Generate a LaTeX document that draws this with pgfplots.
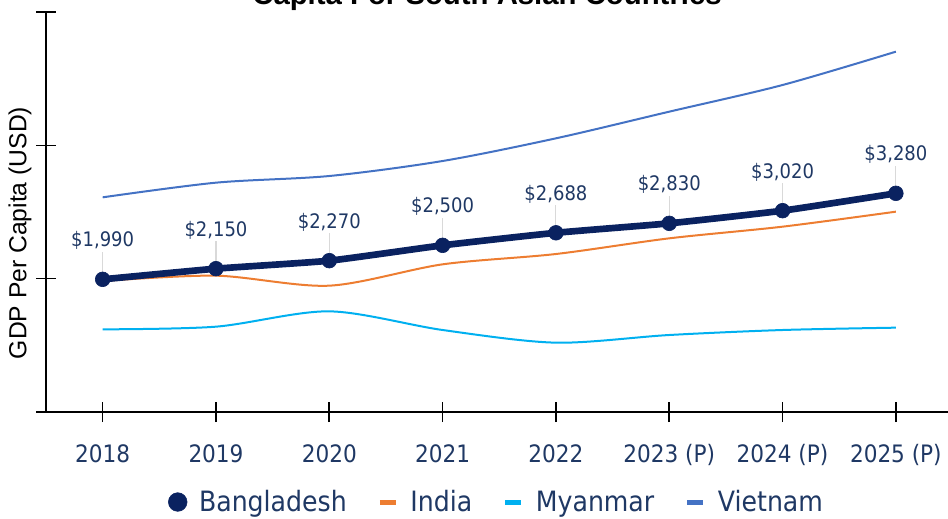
\documentclass[border=0pt]{standalone}
\usepackage{fontspec}
\setmainfont{Liberation Sans}
\newfontfamily\condf{DejaVu Sans Condensed}
\usepackage{pgfplots}
\pgfplotsset{compat=1.18}
\definecolor{bdnavy}{HTML}{0A2260}
\definecolor{indorange}{HTML}{ED7D31}
\definecolor{mmrblue}{HTML}{00B0F0}
\definecolor{vnblue}{HTML}{4472C4}
\definecolor{lbl}{HTML}{1F3864}
\begin{document}
\begin{tikzpicture}
\begin{axis}[
  at={(0pt,0pt)}, anchor=south west,
  scale only axis, width=676.5pt, height=300pt,
  xmin=-0.5, xmax=7.46, ymin=0, ymax=6000,
  axis x line*=bottom, axis y line*=left,
  axis line style={-, black, line width=1.2pt},
  xtick={0,...,7},
  xticklabels={2018,2019,2020,2021,2022,2023 (P),2024 (P),2025 (P)},
  ytick={0,2000,4000,6000}, yticklabels={},
  tick align=center, major tick length=15pt,
  tick style={black, line width=1.2pt},
  xticklabel style={font=\condf\fontsize{18}{20}\selectfont, text=lbl, yshift=-13.5pt},
  clip=false,
  legend style={draw=none, fill=none, at={(0.5,-0.225)}, anchor=center,
    legend columns=4, font=\condf\fontsize{21}{23}\selectfont, text=lbl,
    /tikz/every odd column/.append style={column sep=7pt},
    /tikz/every even column/.append style={column sep=21pt}},
]
% India
\addplot[forget plot, indorange, line width=1.5pt, smooth] coordinates {
(0,1965) (1,2045) (2,1895) (3,2215) (4,2370) (5,2605) (6,2780) (7,3005)};
% Myanmar
\addplot[forget plot, mmrblue, line width=1.5pt, smooth] coordinates {
(0,1240) (1,1280) (2,1510) (3,1230) (4,1040) (5,1155) (6,1230) (7,1265)};
% Vietnam
\addplot[forget plot, vnblue, line width=1.5pt, smooth] coordinates {
(0,3220) (1,3440) (2,3540) (3,3765) (4,4105) (5,4505) (6,4905) (7,5405)};
% leader lines
\addplot[forget plot, draw=none, mark=none,
  error bars/.cd, y dir=plus, y explicit, error mark=none,
  error bar style={draw=black!15, solid, line width=0.8pt}] coordinates {
(0,1990) +- (0,410) (1,2150) +- (0,410) (2,2270) +- (0,410) (3,2500) +- (0,410)
(4,2688) +- (0,410) (5,2830) +- (0,410) (6,3020) +- (0,410) (7,3280) +- (0,410)};
% Bangladesh
\addplot[forget plot, bdnavy, line width=5pt, smooth, tension=0.3,
  mark=*, mark size=5.5pt, mark options={solid, fill=bdnavy, line width=0.5pt},
  nodes near coords, point meta=explicit symbolic,
  every node near coord/.append style={anchor=center, yshift=29pt, text=lbl,
    font=\condf\fontsize{15}{17}\selectfont}] coordinates {
(0,1990) [\$1,990] (1,2150) [\$2,150] (2,2270) [\$2,270] (3,2500) [\$2,500]
(4,2688) [\$2,688] (5,2830) [\$2,830] (6,3020) [\$3,020] (7,3280) [\$3,280]};
\addlegendimage{only marks, mark=*, mark size=7pt, bdnavy}
\addlegendentry{Bangladesh}
\addlegendimage{legend image code/.code={\draw[indorange, line width=3.75pt] (0pt,0pt) -- (12pt,0pt);}}
\addlegendentry{India}
\addlegendimage{legend image code/.code={\draw[mmrblue, line width=3.75pt] (0pt,0pt) -- (12pt,0pt);}}
\addlegendentry{Myanmar}
\addlegendimage{legend image code/.code={\draw[vnblue, line width=3.75pt] (0pt,0pt) -- (12pt,0pt);}}
\addlegendentry{Vietnam}
\end{axis}
\node[font=\bfseries\fontsize{22}{26}\selectfont, anchor=base] at (330.75pt,305.25pt) {Capita For South Asian Countries};
\node[rotate=90, font=\fontsize{18.5}{21}\selectfont] at (-19.5pt,134.25pt) {GDP Per Capita (USD)};
\pgfresetboundingbox
\useasboundingbox (-34.5pt,-79.5pt) rectangle (676.5pt,309pt);
\end{tikzpicture}
\end{document}
